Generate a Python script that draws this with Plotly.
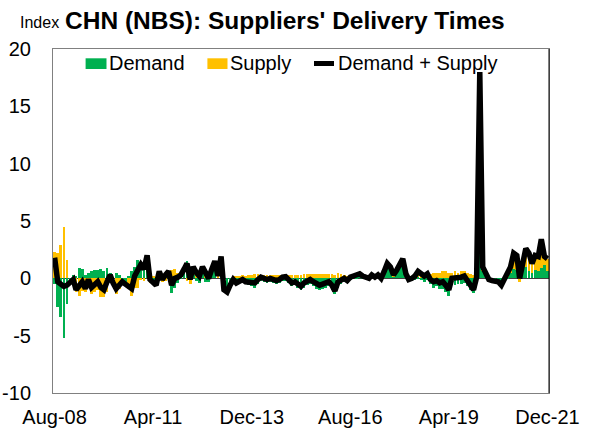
import pandas as pd
import plotly.graph_objects as go

# Monthly contributions to the NBS suppliers' delivery times index (Aug-08 .. Dec-21)
months = pd.date_range("2008-08-01", periods=161, freq="MS")

demand = [
    -0.5, -2.5, -3.4, -5.2, -2.2,
    -0.4, 0.3, 0.2, 0.9, 0.8, 0.3, 0.5, 0.6, 0.7, 0.7, 0.8, 0.6,
    0.9, 0.5, -0.3, 0.5, 0.3, -0.2, -0.4, 0.2, 0.6, 1.0, 1.6, 1.3,
    1.0, 1.5, 0.3, -0.5, -0.7, 0.3, 0.2, 0.5, 0.3, -1.3, -0.8, -0.4,
    0.1, 0.5, 1.5, 0.4, 0.3, -0.2, -0.4, 0.4, -0.3, -0.3, 0.4, 0.8,
    0.0, 1.2, -0.8, -0.9, -0.5, -0.3, -0.6, -0.4, -0.4, -0.5, -0.6, -0.7,
    -0.8, -0.5, -0.2, -0.3, -0.4, -0.3, -0.4, -0.5, -0.4, -0.2, -0.2, -0.4,
    -0.7, -0.6, -0.8, -1.0, -0.8, -0.6, -0.5, -0.7, -0.9, -1.0, -0.9, -0.8,
    -0.7, -1.0, -1.4, -0.8, -0.5, -0.3, -0.4, -0.1, 0.0, 0.1, 0.2, 0.1,
    0.0, -0.1, 0.2, 0.0, 0.2, -0.1, 0.4, 1.0, 0.8, 0.2, 0.6, 0.9,
    1.2, 0.2, -0.2, -0.2, -0.1, 0.1, -0.1, -0.3, -0.1, -0.5, -0.8, -0.7,
    -0.9, -0.9, -1.2, -1.5, -0.5, -0.6, -0.5, -0.5, -0.4, -0.7, -1.0, -1.3,
    0.0, 4.0, 0.6, 0.2, -0.1, -0.1, -0.2, -0.3, -0.4, -0.1, 0.1, 0.5,
    0.8, 0.7, 0.3, 0.6, 1.0, 0.6, 0.5, 0.7, 0.6, 0.9, 1.2, 0.6,
]

supply = [
    2.3, 2.2, 2.9, 4.5, 1.6,
    0.0, -0.4, -1.2, -1.5, -1.1, -1.2, -0.6, -1.4, -1.2, -1.0, -1.6, -1.6,
    -1.2, -0.2, -0.1, -1.4, -0.9, -0.1, -0.1, -0.9, -1.5, -0.8, -0.8, -0.1,
    -0.2, 0.5, -0.4, 0.2, 0.1, 0.3, -0.3, -0.2, 0.3, 0.7, 0.8, 0.5,
    0.2, 0.3, -0.2, -0.5, 0.7, 0.7, 0.6, 0.6, 0.7, 0.3, 0.4, 0.7,
    0.2, 0.7, -0.2, -0.3, -0.1, 0.2, 0.2, 0.2, 0.3, 0.2, 0.3, 0.3,
    0.4, 0.4, 0.3, 0.3, 0.3, 0.3, 0.3, 0.3, 0.3, 0.3, 0.35, 0.3,
    0.3, 0.3, 0.3, 0.3, 0.4, 0.4, 0.4, 0.4, 0.4, 0.4, 0.4, 0.4,
    0.4, 0.4, 0.3, 0.5, 0.4, 0.3, 0.2, 0.2, 0.2, 0.2, 0.2, 0.1,
    0.1, 0.1, 0.1, 0.1, 0.1, 0.1, 0.2, 0.3, 0.2, 0.1, 0.1, 0.3,
    0.5, 0.2, 0.1, 0.2, 0.3, 0.5, 0.5, 0.5, 0.5, 0.4, 0.5, 0.5,
    0.5, 0.6, 0.6, 0.5, 0.5, 0.6, 0.5, 0.6, 0.6, 0.5, 0.4, 0.3,
    0.1, 14.0, 0.4, 0.2, 0.0, -0.1, 0.0, 0.0, -0.2, 0.0, 0.2, 0.5,
    1.4, 1.3, -0.3, 0.7, 1.6, 1.6, 0.8, 1.3, 1.3, 2.5, 0.7, 1.1,
]

total = [round(d + s, 2) for d, s in zip(demand, supply)]

tick_dates = ["2008-08-01", "2011-04-01", "2013-12-01",
              "2016-08-01", "2019-04-01", "2021-12-01"]
y_ticks = [-10, -5, 0, 5, 10, 15, 20]
y_ticktext = ["-10", "-5", "0", "5", "10", "15", "20"]

GREEN = "#00B050"
YELLOW = "#FFC000"
FONT = "Liberation Sans, Arial, sans-serif"

W, H = 589, 431
L, R, T, B = 53, 40, 49, 38
PW, PH = W - L - R, H - T - B


def px(x):
    return (x - L) / PW


def py(y):
    return (H - B - y) / PH


fig = go.Figure()
fig.add_bar(x=months, y=demand, name="Demand", marker=dict(color=GREEN, line_width=0))
fig.add_bar(x=months, y=supply, name="Supply", marker=dict(color=YELLOW, line_width=0))
fig.add_scatter(x=months, y=total, name="Demand + Supply", mode="lines",
                line=dict(color="black", width=5.5))

fig.update_layout(
    width=W, height=H,
    margin=dict(l=L, r=R, t=T, b=B, pad=0, autoexpand=False),
    paper_bgcolor="white", plot_bgcolor="white",
    barmode="relative", bargap=0,
    showlegend=False,
    font=dict(family=FONT, size=20, color="black"),
)

fig.update_xaxes(
    range=["2008-07-16", "2021-12-16"],
    tickvals=tick_dates, tickformat="%b-%y",
    ticks="outside", ticklen=6, tickcolor="rgba(0,0,0,0)",
    showgrid=False, zeroline=False, automargin=False,
    showline=True, linecolor="#808080", linewidth=1, mirror=True,
    tickfont=dict(size=20),
)
fig.update_yaxes(
    range=[-10, 20], tickvals=y_ticks, ticktext=y_ticktext,
    ticks="outside", ticklen=17, tickcolor="rgba(0,0,0,0)",
    showgrid=False, automargin=False,
    zeroline=True, zerolinecolor="#404040", zerolinewidth=1,
    showline=True, linecolor="#808080", linewidth=1, mirror=True,
    tickfont=dict(size=20),
)

shapes = [
    # darker right-hand frame edge
    dict(type="line", xref="paper", yref="paper", x0=1, x1=1, y0=0, y1=1,
         line=dict(color="black", width=1)),
    # legend swatches
    dict(type="rect", xref="paper", yref="paper", x0=px(85.6), x1=px(106.5),
         y0=py(69), y1=py(58.3), fillcolor=GREEN, line_width=0),
    dict(type="rect", xref="paper", yref="paper", x0=px(207.4), x1=px(227.5),
         y0=py(69), y1=py(58.3), fillcolor=YELLOW, line_width=0),
    dict(type="line", xref="paper", yref="paper", x0=px(314), x1=px(334),
         y0=py(63.5), y1=py(63.5), line=dict(color="black", width=5)),
]
fig.update_layout(shapes=shapes)

annotations = [
    dict(text="Demand", x=px(107), y=py(63.5)),
    dict(text="Supply", x=px(228), y=py(63.5)),
    dict(text="Demand + Supply", x=px(335.5), y=py(63.5)),
    dict(text="Index", x=px(18), y=py(22), font=dict(size=16)),
    dict(text="<b>CHN (NBS): Suppliers' Delivery Times</b>", x=px(63), y=py(20.5),
         font=dict(size=24.5)),
]
for a in annotations:
    a.update(xref="paper", yref="paper", xanchor="left", yanchor="middle",
             showarrow=False)
    a.setdefault("font", dict(size=20))
fig.update_layout(annotations=annotations)

fig.write_html("out.html")
